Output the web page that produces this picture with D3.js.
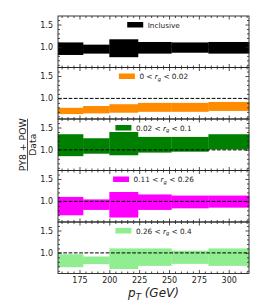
<!DOCTYPE html>
<html>
<head>
<meta charset="utf-8">
<script src="https://cdn.jsdelivr.net/npm/d3@7"></script>
<style>
body { margin: 0; background: #fff; }
svg { display: block; font-family: "DejaVu Sans", sans-serif; }
</style>
</head>
<body>
<div id="chart"></div>
<script>
(function(){

var width = 262,
	height = 306,
	left = 58,
	right = 249,
	top0 = 16,
	panel_h = 51.5;

// pT bin edges (GeV)
var edges = [157, 178, 200, 224, 252, 283, 317];

// band lower / upper edges of PY8+POW / Data per bin
var names = ["Inclusive", "0 < r_g < 0.02", "0.02 < r_g < 0.1", "0.11 < r_g < 0.26", "0.26 < r_g < 0.4"];
var colors = ["#000000", "#ff8c00", "#008000", "#ff00ff", "#90ee90"];

var lo_incl = [0.82, 0.85, 0.77, 0.85, 0.87, 0.85],
	hi_incl = [1.10, 1.05, 1.17, 1.11, 1.10, 1.11];
var lo_r1 = [0.65, 0.665, 0.68, 0.70, 0.70, 0.72],
	hi_r1 = [0.79, 0.83, 0.87, 0.90, 0.90, 0.92];
var lo_r2 = [0.86, 0.915, 0.88, 0.94, 0.96, 1.01],
	hi_r2 = [1.35, 1.26, 1.40, 1.29, 1.29, 1.35];
var lo_r3 = [0.69, 0.81, 0.64, 0.81, 0.845, 0.86],
	hi_r3 = [1.10, 1.045, 1.21, 1.155, 1.13, 1.13];
var lo_r4 = [0.68, 0.75, 0.64, 0.71, 0.755, 0.71],
	hi_r4 = [0.97, 0.92, 1.10, 1.10, 1.05, 1.10];

var lows = [lo_incl, lo_r1, lo_r2, lo_r3, lo_r4],
	highs = [hi_incl, hi_r1, hi_r2, hi_r3, hi_r4];

var xticks = [175, 200, 225, 250, 275, 300],
	yticks = [1.0, 1.5];

var svg = d3.select("#chart").append("svg")
	.attr("width", width)
	.attr("height", height);

var X = d3.scaleLinear().domain([157, 317]).range([left, right]);

var xminor = d3.range(160, 317, 5).filter(function(d){ return xticks.indexOf(d) < 0; });
var yminor = [0.6, 0.7, 0.8, 0.9, 1.1, 1.2, 1.3, 1.4, 1.6];

names.forEach(function(name, k){
	var t = top0 + k * panel_h;
	var Y = d3.scaleLinear().domain([0.54, 1.69]).range([t + panel_h, t]);
	var g = svg.append("g");

	var bins = lows[k].map(function(d, i){
		return {x0: edges[i], x1: edges[i+1], lo: d, hi: highs[k][i]};
	});

	g.selectAll(".band").data(bins).enter().append("rect")
		.attr("x", function(d){ return X(d.x0); })
		.attr("width", function(d){ return X(d.x1) - X(d.x0) + 0.3; })
		.attr("y", function(d){ return Y(d.hi); })
		.attr("height", function(d){ return Y(d.lo) - Y(d.hi); })
		.attr("fill", colors[k]);

	g.append("line")
		.attr("x1", left).attr("x2", right)
		.attr("y1", Y(1)).attr("y2", Y(1))
		.attr("stroke", "#000")
		.attr("stroke-width", 1)
		.attr("stroke-dasharray", "3.7,1.6");

	// axes, ticks inward on all sides
	var ax = function(a, tr){
		var s = g.append("g").attr("transform", tr).call(a);
		s.select(".domain").remove();
		s.selectAll("line").attr("stroke", "#222").attr("stroke-width", 0.8);
		return s;
	};
	var yl = ax(d3.axisLeft(Y).tickValues(yticks).tickSize(-3.5).tickPadding(5).tickFormat(d3.format(".1f")), "translate(" + left + ",0)");
	yl.selectAll("text").attr("font-size", 8).attr("fill", "#222").attr("font-family", "DejaVu Sans");
	ax(d3.axisLeft(Y).tickValues(yminor).tickSize(-2).tickFormat(""), "translate(" + left + ",0)");
	ax(d3.axisRight(Y).tickValues(yticks).tickSize(-3.5).tickFormat(""), "translate(" + right + ",0)");
	ax(d3.axisRight(Y).tickValues(yminor).tickSize(-2).tickFormat(""), "translate(" + right + ",0)");
	ax(d3.axisTop(X).tickValues(xticks).tickSize(-3.5).tickFormat(""), "translate(0," + t + ")");
	ax(d3.axisTop(X).tickValues(xminor).tickSize(-2).tickFormat(""), "translate(0," + t + ")");
	var xb = ax(d3.axisBottom(X).tickValues(xticks).tickSize(-3.5).tickPadding(4)
		.tickFormat(k == names.length - 1 ? d3.format("d") : ""), "translate(0," + (t + panel_h) + ")");
	xb.selectAll("text").attr("font-size", 8).attr("fill", "#222").attr("font-family", "DejaVu Sans");
	ax(d3.axisBottom(X).tickValues(xminor).tickSize(-2).tickFormat(""), "translate(0," + (t + panel_h) + ")");

	g.append("rect")
		.attr("x", left).attr("y", t)
		.attr("width", right - left).attr("height", panel_h)
		.attr("fill", "none")
		.attr("stroke", "#222")
		.attr("stroke-width", 0.9);

	// legend, upper center
	var lg = g.append("g");
	var txt = lg.append("text")
		.attr("font-size", 7.3)
		.attr("fill", "#222")
		.attr("y", t + 11.5);
	var parts = name.split("r_g");
	if (parts.length == 2) {
		txt.append("tspan").text(parts[0]);
		txt.append("tspan").attr("font-style", "italic").text("r");
		txt.append("tspan").attr("font-style", "italic").attr("font-size", 5.2).attr("dy", 1.5).text("g");
		txt.append("tspan").attr("dy", -1.5).text(parts[1]);
	} else {
		txt.text(name);
	}
	var tw = txt.node().getComputedTextLength();
	var pw = 16, gap = 4.5;
	var x0 = (left + right) / 2 - (pw + gap + tw) / 2;
	lg.append("rect")
		.attr("x", x0).attr("y", t + 6)
		.attr("width", pw).attr("height", 5.5)
		.attr("fill", colors[k]);
	txt.attr("x", x0 + pw + gap);
});

// axis titles
var yt = svg.append("g").attr("transform", "translate(27.5," + (top0 + 2.5 * panel_h) + ") rotate(-90)");
yt.append("text").attr("text-anchor", "middle").attr("y", -1.8)
	.attr("font-size", 9.3).attr("fill", "#222").text("PY8 + POW");
yt.append("line").attr("x1", -26).attr("x2", 26).attr("y1", 0).attr("y2", 0)
	.attr("stroke", "#222").attr("stroke-width", 0.8);
yt.append("text").attr("text-anchor", "middle").attr("y", 8.5)
	.attr("font-size", 9.3).attr("fill", "#222").text("Data");

var xt = svg.append("text")
	.attr("x", (left + right) / 2)
	.attr("y", 297)
	.attr("text-anchor", "middle")
	.attr("font-size", 12)
	.attr("font-style", "italic")
	.attr("fill", "#222");
xt.append("tspan").text("p");
xt.append("tspan").attr("font-size", 8.5).attr("dy", 2.5).text("T");
xt.append("tspan").attr("dy", -2.5).text(" (GeV)");

})()
</script>
</body>
</html>
